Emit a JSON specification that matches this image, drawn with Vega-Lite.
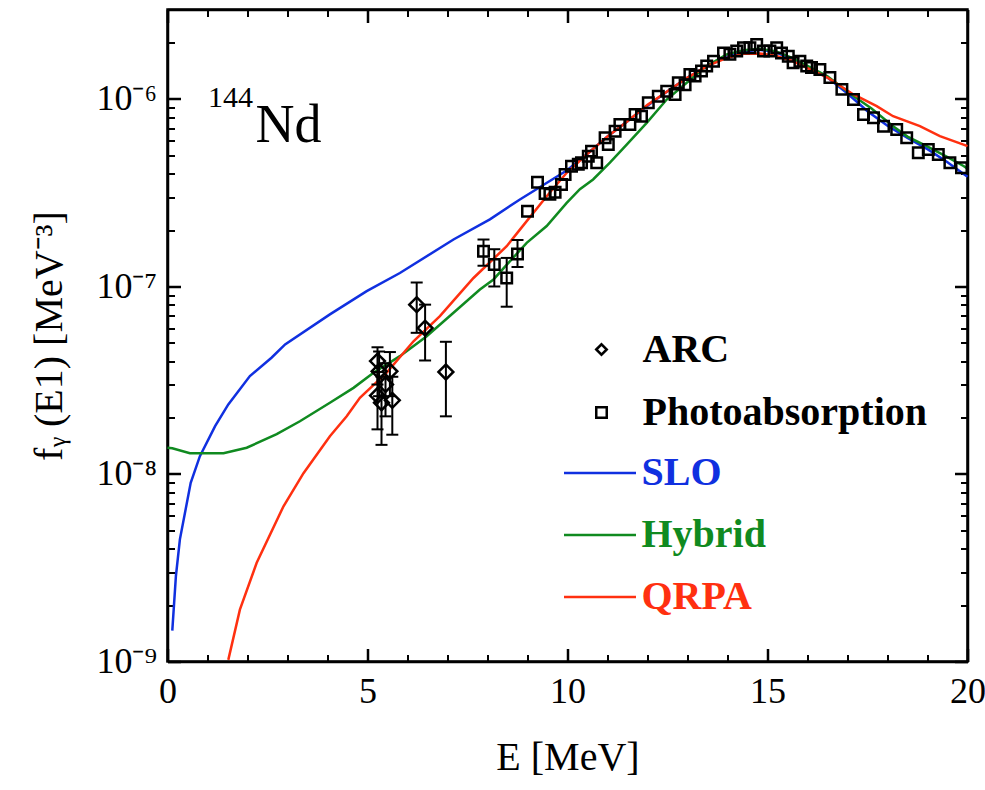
{
  "$schema": "https://vega.github.io/schema/vega-lite/v6.json",
  "width": 800,
  "height": 652,
  "autosize": {"type": "none"},
  "padding": {"left": 167.5, "top": 9.5, "right": 17.5, "bottom": 128.5},
  "background": "white",
  "config": {
    "font": "Liberation Serif",
    "view": {"stroke": "black", "strokeWidth": 2.5},
    "axis": {"domainColor": "black", "domainWidth": 2.5, "grid": false, "labelColor": "black", "titleColor": "black", "labelFont": "Liberation Serif", "titleFont": "Liberation Serif", "titleFontWeight": "normal", "labelOverlap": false, "labelFlush": false}
  },
  "datasets": {
    "curves": [
      {"model": "SLO", "E": 0.12, "f": 1.46e-9},
      {"model": "SLO", "E": 0.21, "f": 2.85e-9},
      {"model": "SLO", "E": 0.31, "f": 4.48e-9},
      {"model": "SLO", "E": 0.58, "f": 8.97e-9},
      {"model": "SLO", "E": 0.81, "f": 1.245e-8},
      {"model": "SLO", "E": 1.19, "f": 1.8e-8},
      {"model": "SLO", "E": 1.52, "f": 2.35e-8},
      {"model": "SLO", "E": 2.06, "f": 3.33e-8},
      {"model": "SLO", "E": 2.6, "f": 4.17e-8},
      {"model": "SLO", "E": 2.94, "f": 4.91e-8},
      {"model": "SLO", "E": 4.06, "f": 7.1e-8},
      {"model": "SLO", "E": 4.98, "f": 9.44e-8},
      {"model": "SLO", "E": 5.81, "f": 1.18e-7},
      {"model": "SLO", "E": 7.15, "f": 1.78e-7},
      {"model": "SLO", "E": 8.06, "f": 2.28e-7},
      {"model": "SLO", "E": 8.81, "f": 2.91e-7},
      {"model": "SLO", "E": 9.98, "f": 4.15e-7},
      {"model": "SLO", "E": 10.5, "f": 5.1e-7},
      {"model": "SLO", "E": 11.0, "f": 6.3e-7},
      {"model": "SLO", "E": 11.5, "f": 7.6e-7},
      {"model": "SLO", "E": 12.0, "f": 9.2e-7},
      {"model": "SLO", "E": 12.5, "f": 1.1e-6},
      {"model": "SLO", "E": 13.0, "f": 1.3e-6},
      {"model": "SLO", "E": 13.5, "f": 1.5e-6},
      {"model": "SLO", "E": 14.0, "f": 1.68e-6},
      {"model": "SLO", "E": 14.4, "f": 1.79e-6},
      {"model": "SLO", "E": 14.8, "f": 1.83e-6},
      {"model": "SLO", "E": 15.2, "f": 1.78e-6},
      {"model": "SLO", "E": 15.6, "f": 1.63e-6},
      {"model": "SLO", "E": 16.0, "f": 1.47e-6},
      {"model": "SLO", "E": 16.5, "f": 1.3e-6},
      {"model": "SLO", "E": 17.0, "f": 1.07e-6},
      {"model": "SLO", "E": 17.5, "f": 8.6e-7},
      {"model": "SLO", "E": 18.0, "f": 7.2e-7},
      {"model": "SLO", "E": 18.5, "f": 6.2e-7},
      {"model": "SLO", "E": 19.0, "f": 5.4e-7},
      {"model": "SLO", "E": 19.5, "f": 4.6e-7},
      {"model": "SLO", "E": 20.0, "f": 3.85e-7},
      {"model": "Hybrid", "E": 0.0, "f": 1.38e-8},
      {"model": "Hybrid", "E": 0.12, "f": 1.37e-8},
      {"model": "Hybrid", "E": 0.56, "f": 1.29e-8},
      {"model": "Hybrid", "E": 1.4, "f": 1.29e-8},
      {"model": "Hybrid", "E": 1.98, "f": 1.38e-8},
      {"model": "Hybrid", "E": 2.73, "f": 1.63e-8},
      {"model": "Hybrid", "E": 3.31, "f": 1.91e-8},
      {"model": "Hybrid", "E": 4.06, "f": 2.4e-8},
      {"model": "Hybrid", "E": 4.65, "f": 2.88e-8},
      {"model": "Hybrid", "E": 5.15, "f": 3.47e-8},
      {"model": "Hybrid", "E": 5.81, "f": 4.25e-8},
      {"model": "Hybrid", "E": 6.48, "f": 5.43e-8},
      {"model": "Hybrid", "E": 7.15, "f": 7.24e-8},
      {"model": "Hybrid", "E": 7.81, "f": 9.64e-8},
      {"model": "Hybrid", "E": 8.15, "f": 1.09e-7},
      {"model": "Hybrid", "E": 8.98, "f": 1.71e-7},
      {"model": "Hybrid", "E": 9.48, "f": 2.1e-7},
      {"model": "Hybrid", "E": 9.98, "f": 2.79e-7},
      {"model": "Hybrid", "E": 10.31, "f": 3.3e-7},
      {"model": "Hybrid", "E": 10.64, "f": 3.72e-7},
      {"model": "Hybrid", "E": 11.06, "f": 4.58e-7},
      {"model": "Hybrid", "E": 11.48, "f": 5.71e-7},
      {"model": "Hybrid", "E": 11.98, "f": 7.46e-7},
      {"model": "Hybrid", "E": 12.48, "f": 9.93e-7},
      {"model": "Hybrid", "E": 12.98, "f": 1.22e-6},
      {"model": "Hybrid", "E": 13.48, "f": 1.5e-6},
      {"model": "Hybrid", "E": 13.98, "f": 1.73e-6},
      {"model": "Hybrid", "E": 14.4, "f": 1.82e-6},
      {"model": "Hybrid", "E": 14.8, "f": 1.85e-6},
      {"model": "Hybrid", "E": 15.2, "f": 1.8e-6},
      {"model": "Hybrid", "E": 15.6, "f": 1.66e-6},
      {"model": "Hybrid", "E": 16.0, "f": 1.5e-6},
      {"model": "Hybrid", "E": 16.5, "f": 1.32e-6},
      {"model": "Hybrid", "E": 17.14, "f": 1.04e-6},
      {"model": "Hybrid", "E": 17.6, "f": 8.9e-7},
      {"model": "Hybrid", "E": 18.14, "f": 7.16e-7},
      {"model": "Hybrid", "E": 18.5, "f": 6.3e-7},
      {"model": "Hybrid", "E": 18.98, "f": 5.6e-7},
      {"model": "Hybrid", "E": 19.5, "f": 4.9e-7},
      {"model": "Hybrid", "E": 19.9, "f": 4.39e-7},
      {"model": "Hybrid", "E": 20.0, "f": 4.25e-7},
      {"model": "QRPA", "E": 1.52, "f": 1.02e-9},
      {"model": "QRPA", "E": 1.81, "f": 1.89e-9},
      {"model": "QRPA", "E": 2.23, "f": 3.36e-9},
      {"model": "QRPA", "E": 2.9, "f": 6.73e-9},
      {"model": "QRPA", "E": 3.4, "f": 1.01e-8},
      {"model": "QRPA", "E": 4.06, "f": 1.59e-8},
      {"model": "QRPA", "E": 4.48, "f": 2.03e-8},
      {"model": "QRPA", "E": 4.81, "f": 2.55e-8},
      {"model": "QRPA", "E": 5.48, "f": 3.47e-8},
      {"model": "QRPA", "E": 6.15, "f": 5.1e-8},
      {"model": "QRPA", "E": 6.81, "f": 6.95e-8},
      {"model": "QRPA", "E": 7.65, "f": 1.11e-7},
      {"model": "QRPA", "E": 8.48, "f": 1.64e-7},
      {"model": "QRPA", "E": 8.81, "f": 2.01e-7},
      {"model": "QRPA", "E": 9.48, "f": 3.03e-7},
      {"model": "QRPA", "E": 9.98, "f": 4.04e-7},
      {"model": "QRPA", "E": 10.5, "f": 5.1e-7},
      {"model": "QRPA", "E": 11.0, "f": 6.3e-7},
      {"model": "QRPA", "E": 11.5, "f": 7.6e-7},
      {"model": "QRPA", "E": 12.0, "f": 9.3e-7},
      {"model": "QRPA", "E": 12.5, "f": 1.1e-6},
      {"model": "QRPA", "E": 13.0, "f": 1.3e-6},
      {"model": "QRPA", "E": 13.5, "f": 1.5e-6},
      {"model": "QRPA", "E": 14.0, "f": 1.66e-6},
      {"model": "QRPA", "E": 14.4, "f": 1.74e-6},
      {"model": "QRPA", "E": 14.8, "f": 1.75e-6},
      {"model": "QRPA", "E": 15.2, "f": 1.7e-6},
      {"model": "QRPA", "E": 15.6, "f": 1.6e-6},
      {"model": "QRPA", "E": 16.0, "f": 1.46e-6},
      {"model": "QRPA", "E": 16.5, "f": 1.3e-6},
      {"model": "QRPA", "E": 17.14, "f": 1.06e-6},
      {"model": "QRPA", "E": 17.73, "f": 9.16e-7},
      {"model": "QRPA", "E": 18.14, "f": 8.09e-7},
      {"model": "QRPA", "E": 18.81, "f": 7.16e-7},
      {"model": "QRPA", "E": 19.31, "f": 6.34e-7},
      {"model": "QRPA", "E": 19.9, "f": 5.71e-7},
      {"model": "QRPA", "E": 20.0, "f": 5.6e-7}
    ],
    "arc": [
      {"src": "ARC", "E": 5.25, "f": 4.0e-8, "lo": 3.0e-8, "hi": 4.74e-8},
      {"src": "ARC", "E": 5.25, "f": 2.62e-8, "lo": 1.73e-8, "hi": 3.5e-8},
      {"src": "ARC", "E": 5.29, "f": 3.53e-8, "lo": 2.6e-8, "hi": 4.5e-8},
      {"src": "ARC", "E": 5.35, "f": 2.4e-8, "lo": 1.43e-8, "hi": 3.3e-8},
      {"src": "ARC", "E": 5.45, "f": 3.0e-8, "lo": 2.03e-8, "hi": 3.9e-8},
      {"src": "ARC", "E": 5.56, "f": 3.53e-8, "lo": 2.6e-8, "hi": 4.47e-8},
      {"src": "ARC", "E": 5.62, "f": 2.47e-8, "lo": 1.62e-8, "hi": 3.3e-8},
      {"src": "ARC", "E": 6.23, "f": 8.0e-8, "lo": 5.66e-8, "hi": 1.05e-7},
      {"src": "ARC", "E": 6.44, "f": 6.0e-8, "lo": 4.03e-8, "hi": 8.0e-8},
      {"src": "ARC", "E": 6.96, "f": 3.5e-8, "lo": 2.03e-8, "hi": 5.07e-8}
    ],
    "photo": [
      {"src": "Photoabsorption", "E": 7.9, "f": 1.54e-7, "lo": 1.29e-7, "hi": 1.78e-7},
      {"src": "Photoabsorption", "E": 8.17, "f": 1.31e-7, "lo": 1.0e-7, "hi": 1.58e-7},
      {"src": "Photoabsorption", "E": 8.48, "f": 1.11e-7, "lo": 7.8e-8, "hi": 1.42e-7},
      {"src": "Photoabsorption", "E": 8.75, "f": 1.49e-7, "lo": 1.27e-7, "hi": 1.77e-7},
      {"src": "Photoabsorption", "E": 9.0, "f": 2.52e-7},
      {"src": "Photoabsorption", "E": 9.25, "f": 3.6e-7},
      {"src": "Photoabsorption", "E": 9.44, "f": 3.13e-7},
      {"src": "Photoabsorption", "E": 9.56, "f": 3.1e-7},
      {"src": "Photoabsorption", "E": 9.69, "f": 3.18e-7},
      {"src": "Photoabsorption", "E": 9.85, "f": 3.5e-7},
      {"src": "Photoabsorption", "E": 9.94, "f": 3.95e-7},
      {"src": "Photoabsorption", "E": 10.1, "f": 4.38e-7},
      {"src": "Photoabsorption", "E": 10.27, "f": 4.48e-7},
      {"src": "Photoabsorption", "E": 10.35, "f": 4.57e-7},
      {"src": "Photoabsorption", "E": 10.52, "f": 4.95e-7},
      {"src": "Photoabsorption", "E": 10.6, "f": 5.27e-7},
      {"src": "Photoabsorption", "E": 10.73, "f": 4.57e-7},
      {"src": "Photoabsorption", "E": 10.94, "f": 6.21e-7},
      {"src": "Photoabsorption", "E": 11.02, "f": 5.71e-7},
      {"src": "Photoabsorption", "E": 11.19, "f": 6.73e-7},
      {"src": "Photoabsorption", "E": 11.31, "f": 7.31e-7},
      {"src": "Photoabsorption", "E": 11.56, "f": 7.31e-7},
      {"src": "Photoabsorption", "E": 11.69, "f": 8.26e-7},
      {"src": "Photoabsorption", "E": 11.85, "f": 8.09e-7},
      {"src": "Photoabsorption", "E": 12.02, "f": 9.55e-7},
      {"src": "Photoabsorption", "E": 12.27, "f": 1.035e-6},
      {"src": "Photoabsorption", "E": 12.48, "f": 1.1e-6},
      {"src": "Photoabsorption", "E": 12.69, "f": 1.057e-6},
      {"src": "Photoabsorption", "E": 12.77, "f": 1.22e-6},
      {"src": "Photoabsorption", "E": 12.94, "f": 1.19e-6},
      {"src": "Photoabsorption", "E": 13.06, "f": 1.352e-6},
      {"src": "Photoabsorption", "E": 13.19, "f": 1.324e-6},
      {"src": "Photoabsorption", "E": 13.35, "f": 1.41e-6},
      {"src": "Photoabsorption", "E": 13.48, "f": 1.5e-6},
      {"src": "Photoabsorption", "E": 13.65, "f": 1.59e-6},
      {"src": "Photoabsorption", "E": 13.9, "f": 1.76e-6},
      {"src": "Photoabsorption", "E": 14.06, "f": 1.73e-6},
      {"src": "Photoabsorption", "E": 14.23, "f": 1.8e-6},
      {"src": "Photoabsorption", "E": 14.4, "f": 1.875e-6},
      {"src": "Photoabsorption", "E": 14.56, "f": 1.875e-6},
      {"src": "Photoabsorption", "E": 14.73, "f": 1.95e-6},
      {"src": "Photoabsorption", "E": 14.9, "f": 1.8e-6},
      {"src": "Photoabsorption", "E": 15.06, "f": 1.8e-6},
      {"src": "Photoabsorption", "E": 15.23, "f": 1.875e-6},
      {"src": "Photoabsorption", "E": 15.35, "f": 1.76e-6},
      {"src": "Photoabsorption", "E": 15.52, "f": 1.69e-6},
      {"src": "Photoabsorption", "E": 15.64, "f": 1.56e-6},
      {"src": "Photoabsorption", "E": 15.81, "f": 1.59e-6},
      {"src": "Photoabsorption", "E": 15.98, "f": 1.5e-6},
      {"src": "Photoabsorption", "E": 16.1, "f": 1.47e-6},
      {"src": "Photoabsorption", "E": 16.31, "f": 1.435e-6},
      {"src": "Photoabsorption", "E": 16.56, "f": 1.3e-6},
      {"src": "Photoabsorption", "E": 16.86, "f": 1.125e-6},
      {"src": "Photoabsorption", "E": 17.15, "f": 9.93e-7},
      {"src": "Photoabsorption", "E": 17.4, "f": 8.26e-7},
      {"src": "Photoabsorption", "E": 17.65, "f": 7.94e-7},
      {"src": "Photoabsorption", "E": 17.9, "f": 7.16e-7},
      {"src": "Photoabsorption", "E": 18.23, "f": 6.87e-7},
      {"src": "Photoabsorption", "E": 18.48, "f": 6.21e-7},
      {"src": "Photoabsorption", "E": 18.77, "f": 5.16e-7},
      {"src": "Photoabsorption", "E": 19.02, "f": 5.38e-7},
      {"src": "Photoabsorption", "E": 19.27, "f": 5.06e-7},
      {"src": "Photoabsorption", "E": 19.56, "f": 4.57e-7},
      {"src": "Photoabsorption", "E": 19.85, "f": 4.3e-7}
    ]
  },
  "resolve": {"axis": {"x": "independent", "y": "independent"}},
  "layer": [
    {
      "data": {"name": "curves"},
      "transform": [{"filter": "datum.model != 'QRPA'"}],
      "mark": {"type": "line", "strokeWidth": 2.5},
      "encoding": {
        "x": {"field": "E", "type": "quantitative", "scale": {"domain": [0, 20], "nice": false, "zero": false},
          "axis": {"orient": "bottom", "title": "E [MeV]", "titleFontSize": 40, "titlePadding": 28,
            "values": [0, 5, 10, 15, 20], "tickSize": -13, "tickColor": "black", "tickWidth": 2.5, "tickOpacity": 1,
            "labelFontSize": 36, "labelPadding": 26}},
        "y": {"field": "f", "type": "quantitative", "scale": {"type": "log", "domain": [1e-9, 3e-6], "nice": false},
          "axis": {"orient": "left", "title": "fᵧ (E1) [MeV⁻³]", "titleFontSize": 40, "titlePadding": 26,
            "values": [1e-9, 1e-8, 1e-7, 1e-6], "tickSize": -13, "tickColor": "black", "tickWidth": 2.5, "tickOpacity": 1,
            "labelExpr": "'10' + (round(log(datum.value)/LN10) == -6 ? '⁻⁶' : round(log(datum.value)/LN10) == -7 ? '⁻⁷' : round(log(datum.value)/LN10) == -8 ? '⁻⁸' : '⁻⁹')",
            "labelFontSize": 36, "labelPadding": 24}},
        "color": {"field": "model", "type": "nominal",
          "scale": {"domain": ["SLO", "Hybrid", "QRPA"], "range": ["#1030e0", "#108a20", "#ff3010"]},
          "legend": {"orient": "none", "legendX": 395, "legendY": 426, "title": null, "padding": 0,
            "symbolType": "stroke", "symbolSize": 5184, "symbolStrokeWidth": 2.5,
            "labelFont": "Liberation Serif", "labelFontWeight": "bold", "labelFontSize": 40, "labelOffset": 4,
            "rowPadding": 4, "labelLimit": 0,
            "labelColor": {"expr": "datum.label == 'SLO' ? '#1030e0' : datum.label == 'Hybrid' ? '#108a20' : '#ff3010'"}}}
      }
    },
    {
      "data": {"name": "curves"},
      "transform": [{"filter": "datum.model == 'QRPA'"}],
      "mark": {"type": "line", "strokeWidth": 2.5},
      "encoding": {
        "x": {"field": "E", "type": "quantitative",
          "axis": {"orient": "top", "title": null, "labels": false, "domain": false,
            "values": [1,2,3,4,6,7,8,9,11,12,13,14,16,17,18,19], "tickSize": -7, "tickColor": "black", "tickWidth": 2, "tickOpacity": 1}},
        "y": {"field": "f", "type": "quantitative",
          "axis": {"orient": "right", "title": null, "labels": false, "domain": false,
            "values": [2e-9,3e-9,4e-9,5e-9,6e-9,7e-9,8e-9,9e-9,2e-8,3e-8,4e-8,5e-8,6e-8,7e-8,8e-8,9e-8,2e-7,3e-7,4e-7,5e-7,6e-7,7e-7,8e-7,9e-7,2e-6,3e-6], "tickSize": -7, "tickColor": "black", "tickWidth": 2, "tickOpacity": 1}},
        "color": {"field": "model", "type": "nominal"}
      }
    },
    {
      "data": {"name": "arc"},
      "mark": {"type": "rule", "strokeWidth": 2, "color": "black"},
      "encoding": {
        "x": {"field": "E", "type": "quantitative", "axis": null},
        "y": {"field": "lo", "type": "quantitative", "axis": null},
        "y2": {"field": "hi"}
      }
    },
    {
      "data": {"name": "arc"},
      "transform": [{"fold": ["lo", "hi"], "as": ["end", "val"]}],
      "mark": {"type": "tick", "orient": "horizontal", "size": 12, "thickness": 2, "color": "black", "opacity": 1},
      "encoding": {
        "x": {"field": "E", "type": "quantitative", "axis": null},
        "y": {"field": "val", "type": "quantitative", "axis": null}
      }
    },
    {
      "data": {"name": "photo"},
      "transform": [{"filter": "isValid(datum.lo)"}],
      "mark": {"type": "rule", "strokeWidth": 2, "color": "black"},
      "encoding": {
        "x": {"field": "E", "type": "quantitative", "axis": null},
        "y": {"field": "lo", "type": "quantitative", "axis": null},
        "y2": {"field": "hi"}
      }
    },
    {
      "data": {"name": "photo"},
      "transform": [{"filter": "isValid(datum.lo)"}, {"fold": ["lo", "hi"], "as": ["end", "val"]}],
      "mark": {"type": "tick", "orient": "horizontal", "size": 12, "thickness": 2, "color": "black", "opacity": 1},
      "encoding": {
        "x": {"field": "E", "type": "quantitative", "axis": null},
        "y": {"field": "val", "type": "quantitative", "axis": null}
      }
    },
    {
      "data": {"name": "arc"},
      "mark": {"type": "point", "filled": false, "color": "black", "strokeWidth": 2.5, "size": 220, "opacity": 1},
      "encoding": {
        "x": {"field": "E", "type": "quantitative",
          "axis": {"orient": "bottom", "title": null, "labels": false, "domain": false,
            "values": [1,2,3,4,6,7,8,9,11,12,13,14,16,17,18,19], "tickSize": -7, "tickColor": "black", "tickWidth": 2, "tickOpacity": 1}},
        "y": {"field": "f", "type": "quantitative",
          "axis": {"orient": "left", "title": null, "labels": false, "domain": false,
            "values": [2e-9,3e-9,4e-9,5e-9,6e-9,7e-9,8e-9,9e-9,2e-8,3e-8,4e-8,5e-8,6e-8,7e-8,8e-8,9e-8,2e-7,3e-7,4e-7,5e-7,6e-7,7e-7,8e-7,9e-7,2e-6,3e-6], "tickSize": -7, "tickColor": "black", "tickWidth": 2, "tickOpacity": 1}},
        "shape": {"field": "src", "type": "nominal",
          "scale": {"domain": ["ARC", "Photoabsorption"], "range": ["diamond", "square"]},
          "legend": {"orient": "none", "legendX": 414, "legendY": 320, "title": null, "padding": 0,
            "symbolSize": 110, "symbolStrokeWidth": 2.5, "symbolStrokeColor": "black", "symbolFillColor": "transparent",
            "labelFont": "Liberation Serif", "labelFontWeight": "bold", "labelFontSize": 40, "labelOffset": 21,
            "labelColor": "black", "rowPadding": 23, "labelLimit": 0}}
      }
    },
    {
      "data": {"name": "photo"},
      "mark": {"type": "point", "filled": false, "color": "black", "strokeWidth": 2.5, "size": 110, "opacity": 1},
      "encoding": {
        "x": {"field": "E", "type": "quantitative",
          "axis": {"orient": "top", "title": null, "labels": false,
            "values": [0, 5, 10, 15, 20], "tickSize": -13, "tickColor": "black", "tickWidth": 2.5, "tickOpacity": 1}},
        "y": {"field": "f", "type": "quantitative",
          "axis": {"orient": "right", "title": null, "labels": false,
            "values": [1e-9, 1e-8, 1e-7, 1e-6], "tickSize": -13, "tickColor": "black", "tickWidth": 2.5, "tickOpacity": 1}},
        "shape": {"field": "src", "type": "nominal"}
      }
    },
    {
      "data": {"values": [{"label": "144"}]},
      "mark": {"type": "text", "font": "Liberation Serif", "fontSize": 30, "align": "left", "baseline": "alphabetic", "color": "black"},
      "encoding": {
        "x": {"datum": 1.01, "type": "quantitative", "axis": null},
        "y": {"datum": 9.1e-7, "type": "quantitative", "axis": null},
        "text": {"field": "label"}
      }
    },
    {
      "data": {"values": [{"label": "Nd"}]},
      "mark": {"type": "text", "font": "Liberation Serif", "fontSize": 54, "align": "left", "baseline": "alphabetic", "color": "black"},
      "encoding": {
        "x": {"datum": 2.2, "type": "quantitative", "axis": null},
        "y": {"datum": 5.86e-7, "type": "quantitative", "axis": null},
        "text": {"field": "label"}
      }
    }
  ]
}
